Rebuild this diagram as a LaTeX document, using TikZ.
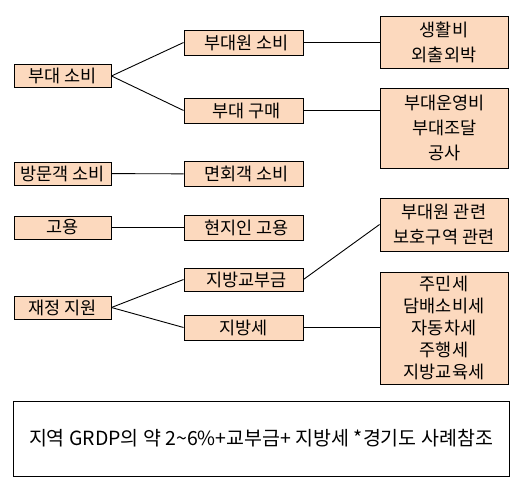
\documentclass[tikz,border=0pt]{standalone}
\usepackage{fontspec}
\setmainfont{Noto Sans CJK KR}
\definecolor{clrBox}{RGB}{252,217,190}
\tikzset{
  cat/.style={rectangle,draw=black,fill=clrBox,line width=0.9pt,
    minimum width=97pt,minimum height=23pt,inner sep=0pt,
    font=\fontsize{17.5}{25}\selectfont},
  sub/.style={cat,minimum width=119pt,minimum height=25pt},
  detail/.style={cat,minimum width=128pt,align=center},
  summary/.style={rectangle,draw=black,line width=0.9pt,
    minimum width=496pt,minimum height=75pt,inner sep=0pt,
    font=\fontsize{19.5}{22}\selectfont},
  link/.style={line width=0.9pt,draw=black}
}
\begin{document}
\begin{tikzpicture}[x=1pt,y=-1pt]
  \useasboundingbox (0,0) rectangle (523,487);

  % first column
  \node[cat] (budae) at (62.5,76) {부대 소비};
  \node[cat] (visitor) at (62.5,173.5) {방문객 소비};
  \node[cat] (employ) at (62.5,227.5) {고용};
  \node[cat] (fiscal) at (62.5,307.5) {재정 지원};

  % second column
  \node[sub] (member) at (243.5,42.5) {\hspace{6pt}부대원 소비};
  \node[sub] (purchase) at (243.5,110.5) {\hspace{6pt}부대 구매};
  \node[sub] (meeting) at (243.5,174) {\hspace{6pt}면회객 소비};
  \node[sub] (local) at (243.5,227.5) {\hspace{6pt}현지인 고용};
  \node[sub,minimum height=23pt] (grant) at (243.5,279.5) {\hspace{6pt}지방교부금};
  \node[sub] (localtax) at (243.5,327.5) {지방세};

  % third column
  \node[detail,minimum height=52pt] (living) at (444,42)
    {생활비\\외출외박};
  \node[detail,minimum height=80pt] (operate) at (444.5,128)
    {부대운영비\\부대조달\\공사};
  \node[detail,minimum height=53pt] (related) at (444,224.5)
    {부대원 관련\\보호구역 관련};
  \node[detail,minimum height=112pt,font=\fontsize{17.5}{22}\selectfont]
    (taxes) at (444,328)
    {주민세\\담배소비세\\자동차세\\주행세\\지방교육세};

  \node[summary] (note) at (261,438.5)
    {지역 GRDP의 약 2\textasciitilde6\%+교부금+ 지방세 *경기도 사례참조};

  \draw[link] (budae.east) -- (member.west);
  \draw[link] (budae.east) -- (purchase.west);
  \draw[link] (member.east) -- (member.east -| living.west);
  \draw[link] (purchase.east) -- (purchase.east -| operate.west);
  \draw[link] (visitor) -- (meeting);
  \draw[link] (employ) -- (local);
  \draw[link] (fiscal.east) -- (grant.west);
  \draw[link] (fiscal.east) -- (localtax.west);
  \draw[link] (grant.east) -- (related.west);
  \draw[link] (localtax.east) -- (localtax.east -| taxes.west);
\end{tikzpicture}
\end{document}
